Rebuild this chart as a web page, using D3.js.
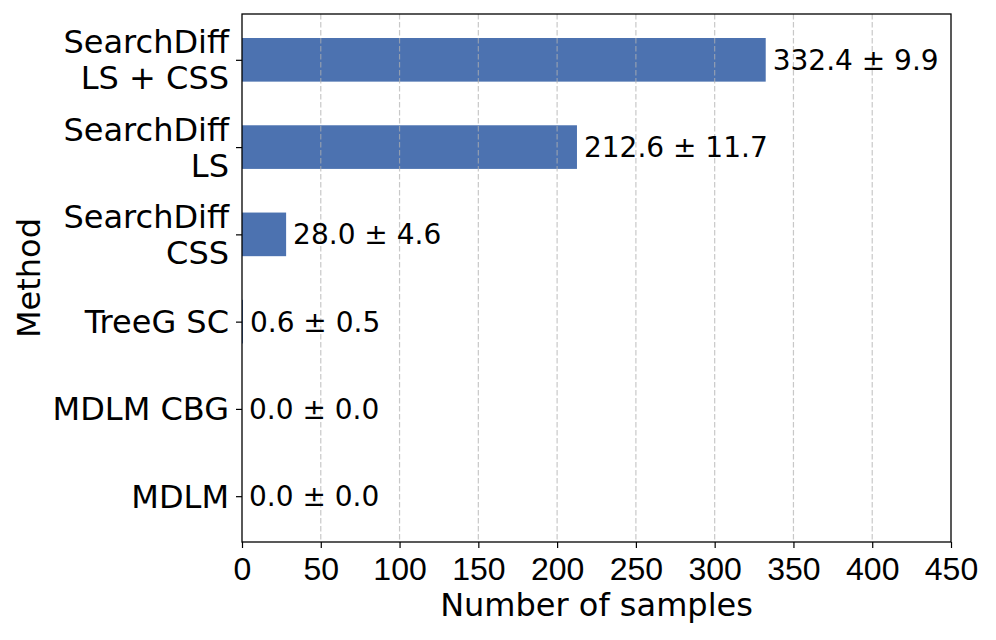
<!DOCTYPE html>
<html><head><meta charset="utf-8">
<script src="https://cdn.jsdelivr.net/npm/d3@7"></script>
<style>body{margin:0;background:#fff}svg{display:block;font-family:"DejaVu Sans",sans-serif}</style>
</head><body>
<svg id="c" width="996" height="640"></svg>
<script>
const methods = [["MDLM"],["MDLM CBG"],["TreeG SC"],["SearchDiff","CSS"],["SearchDiff","LS"],["SearchDiff","LS + CSS"]];
const means = [0.0, 0.0, 0.6, 28.0, 212.6, 332.4];
const stds = [0.0, 0.0, 0.5, 4.6, 11.7, 9.9];
const xTicks = [0,50,100,150,200,250,300,350,400,450];

const svg = d3.select("#c");
const L=242, R=951, T=14, B=542;
const x = d3.scaleLinear().domain([0,450]).range([L,R]);
const y = d3.scaleLinear().domain([-0.525,5.525]).range([B,T]);
const bh = y(0)-y(0.5);

svg.append("g").selectAll("rect").data(means).join("rect")
  .attr("x",x(0)).attr("y",(d,i)=>y(i)-bh/2)
  .attr("width",d=>x(d)-x(0)).attr("height",bh).attr("fill","#4c72b0");

// grid
svg.append("g").selectAll("line").data(xTicks.slice(1,-1)).join("line")
  .attr("x1",d=>x(d)).attr("x2",d=>x(d)).attr("y1",T).attr("y2",B)
  .attr("stroke","#b0b0b0").attr("stroke-opacity",0.7).attr("stroke-width",1.2).attr("stroke-dasharray","5.5,2.5");

// labels
svg.append("g").selectAll("text").data(means).join("text")
  .attr("x",d=>x(d)+7).attr("y",(d,i)=>y(i)).attr("dy","0.36em")
  .attr("font-size",28).attr("fill","#000")
  .text((d,i)=>d.toFixed(1)+" ± "+stds[i].toFixed(1));

// axes
const xa = svg.append("g").attr("transform",`translate(0,${B})`)
  .call(d3.axisBottom(x).tickValues(xTicks).tickFormat(d3.format("d")).tickSize(6));
xa.selectAll("text").attr("font-size",32).attr("fill","#000").attr("y",38).attr("dy",0);
const ya = svg.append("g").attr("transform",`translate(${L},0)`)
  .call(d3.axisLeft(y).tickValues(d3.range(methods.length)).tickFormat("").tickSize(6));
[xa,ya].forEach(g=>{g.select(".domain").remove();g.selectAll("line").attr("stroke","#000").attr("stroke-width",1.2);});

const yl = svg.append("g");
methods.forEach((m,i)=>{
  const t = yl.append("text").attr("text-anchor","end").attr("font-size",32).attr("fill","#000")
    .attr("x",L-13).attr("y",y(i));
  const n=m.length;
  m.forEach((s,j)=>{
    t.append("tspan").attr("x",L-13).attr("y",y(i)+(j-(n-1)/2)*36).attr("dy","0.36em").text(s);
  });
});

svg.append("rect").attr("x",L).attr("y",T).attr("width",R-L).attr("height",B-T)
  .attr("fill","none").attr("stroke","#000").attr("stroke-width",1.3);

svg.append("text").attr("x",(L+R)/2).attr("y",616).attr("text-anchor","middle").attr("font-size",32).text("Number of samples");
svg.append("text").attr("transform",`translate(40,${(T+B)/2}) rotate(-90)`).attr("text-anchor","middle").attr("font-size",32).text("Method");
</script>
</body></html>
